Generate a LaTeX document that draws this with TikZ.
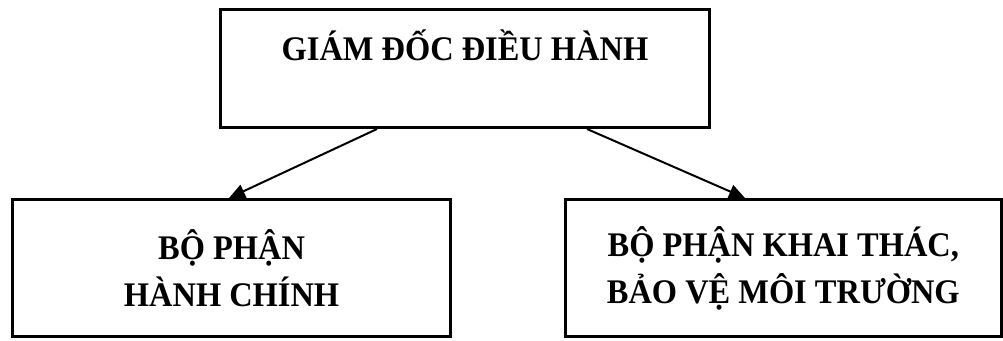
\documentclass[tikz,border=0pt]{standalone}
\usepackage{fontspec}
\setmainfont{Liberation Serif}
\newfontfamily\boxfont{Liberation Serif}[FakeStretch=0.94]
\usetikzlibrary{arrows.meta,positioning}

\begin{document}
\begin{tikzpicture}[
  x=1pt, y=-1pt,
  box/.style={draw=black, line width=3pt, fill=white, align=center, inner sep=0pt},
  boxtext/.style={font=\boxfont\fontsize{34.5}{47}\selectfont\bfseries},
  arrow/.style={-{Triangle[length=16pt,width=14pt]}, line width=2pt, draw=black}
]
\useasboundingbox (0,0) rectangle (1003,340);

% boxes
\node[box, boxtext, minimum width=489pt, minimum height=118pt, text height=20pt, text depth=36pt] (ceo) at (465,68.5) {GIÁM ĐỐC ĐIỀU HÀNH};
\node[box, boxtext, minimum width=438pt, minimum height=136.5pt] (admin) at (231.6,267.75) {BỘ PHẬN\\HÀNH CHÍNH};
\node[box, boxtext, minimum width=435.5pt, minimum height=137pt] (env) at (783.3,268) {BỘ PHẬN KHAI THÁC,\\BẢO VỆ MÔI TRƯỜNG};

% arrows
\draw[arrow] ([xshift=-88pt]ceo.south) -- ([xshift=-2.6pt]admin.north);
\draw[arrow] ([xshift=122pt]ceo.south) -- ([xshift=-38.3pt]env.north);
\end{tikzpicture}
\end{document}
